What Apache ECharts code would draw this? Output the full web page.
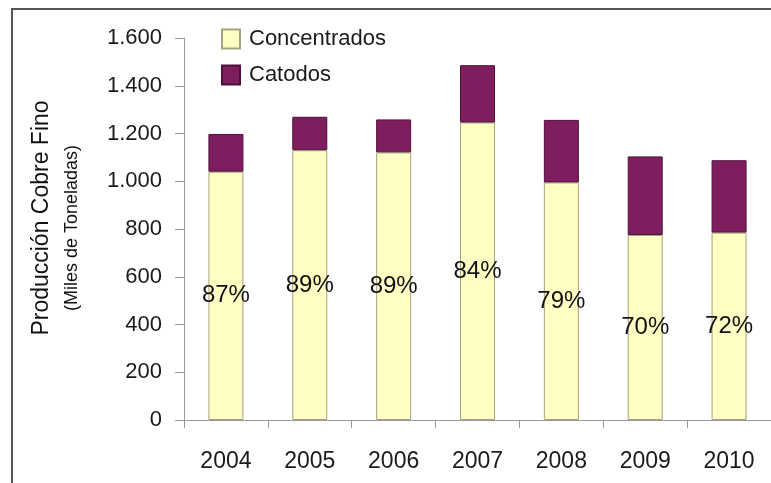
<!DOCTYPE html>
<html>
<head>
<meta charset="utf-8">
<title>Producción Cobre Fino</title>
<script src="https://cdn.jsdelivr.net/npm/echarts@6/dist/echarts.min.js"></script>
<style>
  html, body { margin: 0; padding: 0; background: #fff; }
  #chart { width: 771px; height: 483px; }
</style>
</head>
<body>
<div id="chart"></div>
<script>
// datos (miles de toneladas)
var years = ["2004", "2005", "2006", "2007", "2008", "2009", "2010"];
var concentrados = [1040, 1130, 1121, 1246, 995, 775, 785];
var catodos = [158, 140, 138, 240, 262, 329, 303];
var pctLabels = ["87%", "89%", "89%", "84%", "79%", "70%", "72%"];
var yTicks = [0, 200, 400, 600, 800, 1000, 1200, 1400, 1600];

var font = "'Liberation Sans', Arial, sans-serif";

// 1600 -> "1.600"
function miles(v) {
  if (v < 1000) return String(v);
  return Math.floor(v / 1000) + "." + String(v % 1000).padStart(3, "0");
}

var chart = echarts.init(document.getElementById("chart"));
var option = {
  animation: false,
  textStyle: { fontFamily: font },
  grid: {
    left: 184,
    top: 38,
    bottom: 63,
    width: 600 // el grafico original esta recortado a la derecha
  },
  legend: {
    orient: "vertical",
    left: 216,
    top: 23,
    itemWidth: 18,
    itemHeight: 19,
    itemGap: 14,
    icon: "rect",
    data: ["Concentrados", "Catodos"],
    textStyle: {
      fontFamily: font,
      fontSize: 22,
      color: "#1a1a1a",
      padding: [0, 0, 0, 4]
    }
  },
  xAxis: {
    type: "category",
    data: years,
    axisLine: { lineStyle: { color: "#999", width: 1 } },
    axisTick: { show: true, length: 8, lineStyle: { color: "#999" } },
    axisLabel: {
      fontFamily: font,
      fontSize: 23,
      color: "#1a1a1a",
      margin: 30
    }
  },
  yAxis: {
    type: "value",
    min: yTicks[0],
    max: yTicks[yTicks.length - 1],
    interval: 200,
    axisLine: { show: true, lineStyle: { color: "#999", width: 1 } },
    axisTick: { show: true, length: 9, lineStyle: { color: "#999" } },
    splitLine: { show: false },
    axisLabel: {
      fontFamily: font,
      fontSize: 22,
      color: "#1a1a1a",
      margin: 22,
      formatter: miles
    }
  },
  series: [
    {
      name: "Concentrados",
      type: "bar",
      stack: "total",
      barWidth: 35,
      data: concentrados,
      itemStyle: {
        color: "#ffffc4",
        borderColor: "#a3a37e",
        borderWidth: 1
      },
      label: {
        show: true,
        position: "inside",
        fontFamily: font,
        fontSize: 24,
        color: "#111",
        formatter: function (p) {
          return pctLabels[p.dataIndex];
        }
      }
    },
    {
      name: "Catodos",
      type: "bar",
      stack: "total",
      barWidth: 35,
      data: catodos,
      itemStyle: {
        color: "#7e1e5e",
        borderColor: "#4e1038",
        borderWidth: 1
      }
    }
  ],
  graphic: [
    {
      type: "rect",
      shape: { x: 12, y: 9, width: 800, height: 520 },
      style: { fill: "none", stroke: "#555", lineWidth: 2 },
      silent: true
    },
    {
      type: "text",
      x: 42,
      y: 218,
      rotation: Math.PI / 2,
      style: {
        text: "Producción Cobre Fino",
        fontFamily: font,
        fontSize: 23,
        fill: "#111",
        align: "center",
        verticalAlign: "middle"
      }
    },
    {
      type: "text",
      x: 72,
      y: 228,
      rotation: Math.PI / 2,
      style: {
        text: "(Miles de Toneladas)",
        fontFamily: font,
        fontSize: 18,
        fill: "#111",
        align: "center",
        verticalAlign: "middle"
      }
    }
  ]
};
chart.setOption(option);
window.addEventListener("resize", function () {
  chart.resize();
});
</script>
</body>
</html>
